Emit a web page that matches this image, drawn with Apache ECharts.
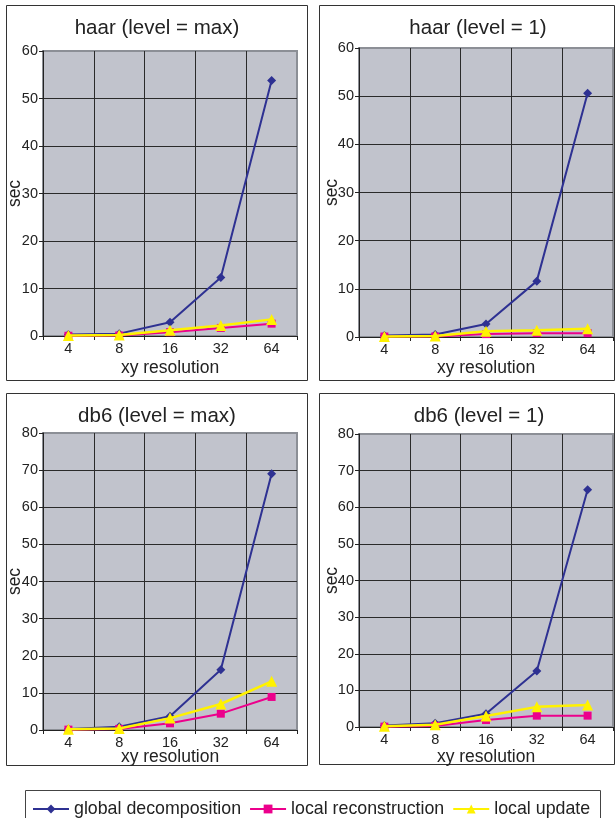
<!DOCTYPE html>
<html>
<head>
<meta charset="utf-8">
<script src="https://cdn.jsdelivr.net/npm/echarts@6/dist/echarts.min.js"></script>
<style>
html,body{margin:0;padding:0;background:#fff;}
#c{width:615px;height:818px;}
</style>
</head>
<body>
<div id="c"></div>
<script>
const categories = ['4', '8', '16', '32', '64'];
const seriesNames = ['global decomposition', 'local reconstruction', 'local update'];
const panelTitles = ['haar (level = max)', 'haar (level = 1)', 'db6 (level = max)', 'db6 (level = 1)'];
const panelYMax = [60, 60, 80, 80];

const haarMaxGlobal = [0.3, 0.5, 2.9, 12.3, 53.8];
const haarMaxRecon  = [0.05, 0.1, 0.8, 1.7, 2.6];
const haarMaxUpdate = [0.1, 0.2, 1.2, 2.2, 3.5];

const haar1Global = [0.3, 0.5, 2.7, 11.6, 50.6];
const haar1Recon  = [0.1, 0.1, 0.6, 0.8, 0.8];
const haar1Update = [0.1, 0.2, 1.2, 1.4, 1.7];

const db6MaxGlobal = [0.3, 0.9, 3.7, 16.2, 69.0];
const db6MaxRecon  = [0.1, 0.3, 1.8, 4.4, 8.9];
const db6MaxUpdate = [0.2, 0.4, 3.2, 7.0, 13.1];

const db61Global = [0.4, 1.0, 3.6, 15.3, 64.8];
const db61Recon  = [0.1, 0.3, 1.9, 3.1, 3.1];
const db61Update = [0.2, 0.6, 3.0, 5.5, 6.0];

const panelData = [
  [haarMaxGlobal, haarMaxRecon, haarMaxUpdate],
  [haar1Global, haar1Recon, haar1Update],
  [db6MaxGlobal, db6MaxRecon, db6MaxUpdate],
  [db61Global, db61Recon, db61Update]
];

const FONT = "'Liberation Sans', Arial, Helvetica, sans-serif";
const colors = ['#2e3192', '#ec008c', '#fff200'];
const symbols = ['diamond', 'rect', 'triangle'];
const symbolSizes = [9, 8, 11];
const lineWidths = [2, 2, 2.5];

const grids = [
  {left: 43, top: 51, width: 254, height: 285},
  {left: 359, top: 48, width: 254, height: 289},
  {left: 43, top: 433, width: 254, height: 297},
  {left: 359, top: 434, width: 254, height: 293}
];
const xNameGaps = [23, 22, 18, 21];
const yNameGaps = [19, 18, 19, 18];
const titlePos = [
  {x: 152, y: 13}, {x: 473, y: 13}, {x: 152, y: 401}, {x: 474, y: 401}
];
const panelRects = [
  {x: 6.5, y: 5.5, w: 301, h: 375},
  {x: 319.5, y: 5.5, w: 295, h: 375},
  {x: 6.5, y: 393.5, w: 301, h: 372},
  {x: 319.5, y: 393.5, w: 295, h: 371}
];

const option = {
  animation: false,
  backgroundColor: '#ffffff',
  textStyle: {fontFamily: FONT},
  title: panelTitles.map((t, i) => ({
    text: t,
    left: titlePos[i].x,
    top: titlePos[i].y,
    textAlign: 'center',
    textStyle: {fontFamily: FONT, fontSize: 20.5, fontWeight: 'normal', color: '#222'}
  })),
  graphic: panelRects.map(r => ({
    type: 'rect', silent: true, z: -10,
    shape: {x: r.x, y: r.y, width: r.w, height: r.h},
    style: {fill: 'none', stroke: '#333', lineWidth: 1}
  })).concat([{
    type: 'rect', silent: true, z: -10,
    shape: {x: 25.5, y: 790.5, width: 575, height: 40},
    style: {fill: 'none', stroke: '#444', lineWidth: 1}
  }]),
  legend: {
    data: seriesNames.map((n, si) => ({name: n, itemStyle: {color: colors[si]}})),
    left: 32,
    top: 800,
    itemWidth: 36,
    itemHeight: 11,
    itemGap: 8,
    padding: 0,
    textStyle: {fontFamily: FONT, fontSize: 17.8, color: '#222'}
  },
  grid: grids.map(g => ({
    left: g.left, top: g.top, width: g.width, height: g.height,
    show: true, backgroundColor: '#c1c3cc', borderColor: '#8c8f96', borderWidth: 2,
    containLabel: false
  })),
  xAxis: grids.map((g, i) => ({
    type: 'category',
    gridIndex: i,
    data: categories,
    boundaryGap: true,
    name: 'xy resolution',
    nameLocation: 'middle',
    nameGap: xNameGaps[i],
    nameMoveOverlap: false,
    nameTextStyle: {fontFamily: FONT, fontSize: 17.5, color: '#222'},
    axisLine: {show: true, lineStyle: {color: '#222', width: 1}},
    axisTick: {show: true, length: 4, inside: false, lineStyle: {color: '#222'}},
    axisLabel: {fontFamily: FONT, fontSize: 14.5, color: '#222', margin: 5},
    splitLine: {show: true, showMaxLine: false, lineStyle: {color: '#2a2a2a', width: 1}}
  })),
  yAxis: grids.map((g, i) => ({
    type: 'value',
    gridIndex: i,
    min: 0,
    max: panelYMax[i],
    interval: 10,
    name: 'sec',
    nameLocation: 'middle',
    nameGap: yNameGaps[i],
    nameMoveOverlap: false,
    nameRotate: 90,
    nameTextStyle: {fontFamily: FONT, fontSize: 17.5, color: '#222'},
    axisLine: {show: true, lineStyle: {color: '#222', width: 1}},
    axisTick: {show: true, length: 4, inside: false, lineStyle: {color: '#222'}},
    axisLabel: {fontFamily: FONT, fontSize: 14.5, color: '#222', margin: 5},
    splitLine: {show: true, showMaxLine: false, showMinLine: false, lineStyle: {color: '#2a2a2a', width: 1}}
  })),
  series: []
};

panelData.forEach((arrs, gi) => {
  arrs.forEach((vals, si) => {
    option.series.push({
      name: seriesNames[si],
      type: 'line',
      xAxisIndex: gi,
      yAxisIndex: gi,
      data: vals,
      symbol: symbols[si],
      symbolSize: symbolSizes[si],
      showAllSymbol: true,
      itemStyle: {color: colors[si]},
      lineStyle: {color: colors[si], width: lineWidths[si]},
      z: 2 + si
    });
  });
});

const chart = echarts.init(document.getElementById('c'), null, {renderer: 'canvas'});
chart.setOption(option);
</script>
</body>
</html>
